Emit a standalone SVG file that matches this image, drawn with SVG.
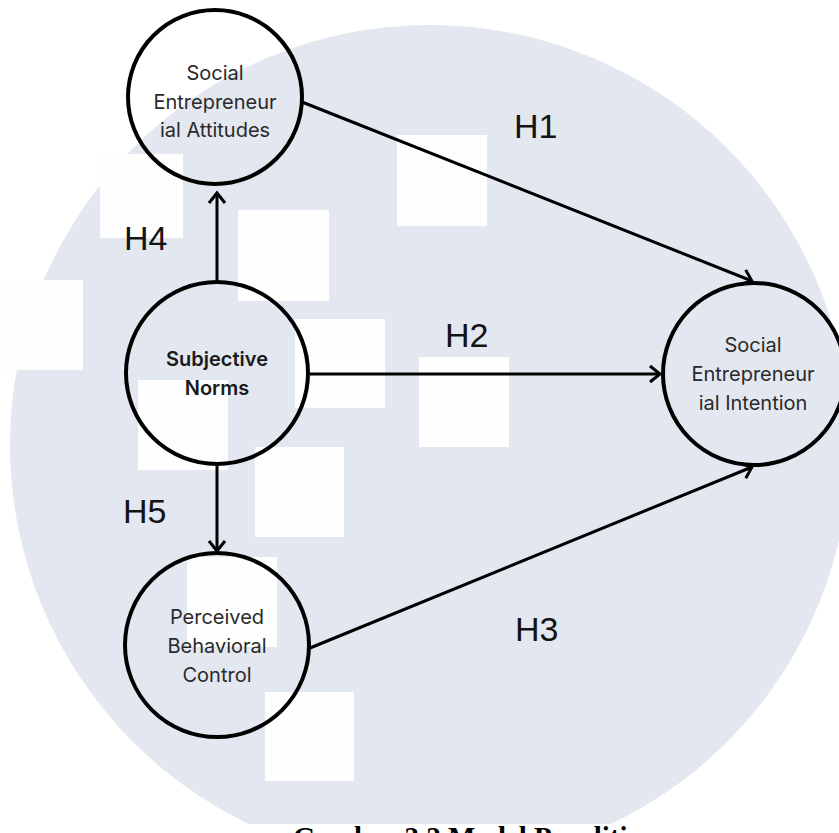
<svg xmlns="http://www.w3.org/2000/svg" width="839" height="833" viewBox="0 0 839 833">
  <style>
    .node { fill: none; stroke: #000; stroke-width: 4; }
    .ntext { font-family: Inter, "Open Sans", sans-serif; font-size: 20px; fill: #2a2a2a; text-anchor: middle; }
    .bold { font-weight: 600; fill: #1a1a1a; }
    .hlab { font-family: "Liberation Sans", Arial, sans-serif; font-size: 34px; fill: #141414; }
    .edge { fill: none; stroke: #000; stroke-width: 3; }
    .sq { fill: #fefefe; }
  </style>
  <defs>
    <marker id="arr" markerUnits="userSpaceOnUse" markerWidth="14" markerHeight="20" viewBox="0 0 14 20" refX="11" refY="10" orient="auto">
      <path d="M1,2 L11,10 L1,18" fill="none" stroke="#000" stroke-width="3"/>
    </marker>
  </defs>
  <rect x="0" y="0" width="839" height="833" fill="#ffffff"/>
  <g id="background">
    <circle cx="430" cy="445" r="420" fill="#e3e7ef"/>
    <rect class="sq" x="397" y="135" width="90" height="91"/>
    <rect class="sq" x="238" y="210" width="91" height="91"/>
    <rect class="sq" x="295" y="319" width="90" height="89"/>
    <rect class="sq" x="419" y="357" width="90" height="90"/>
    <rect class="sq" x="255" y="447" width="89" height="90"/>
    <rect class="sq" x="138" y="380" width="90" height="90"/>
    <rect class="sq" x="187" y="557" width="90" height="90"/>
    <rect class="sq" x="265" y="692" width="89" height="89"/>
    <rect class="sq" x="100" y="154" width="83" height="84"/>
    <rect class="sq" x="0" y="280" width="83" height="90"/>
    <rect x="0" y="824" width="839" height="9" fill="#ffffff"/>
  </g>
  <g id="connectors">
    <line class="edge" x1="217" y1="281" x2="217" y2="193" marker-end="url(#arr)"/>
    <line class="edge" x1="217" y1="466" x2="217" y2="551" marker-end="url(#arr)"/>
    <line class="edge" x1="310" y1="374" x2="660" y2="374" marker-end="url(#arr)"/>
    <line class="edge" x1="302" y1="102" x2="752" y2="281" marker-end="url(#arr)"/>
    <line class="edge" x1="310" y1="648" x2="752" y2="467" marker-end="url(#arr)"/>
  </g>
  <g id="labels">
    <text class="hlab" x="514" y="138">H1</text>
    <text class="hlab" x="445" y="347">H2</text>
    <text class="hlab" x="515" y="641">H3</text>
    <text class="hlab" x="124" y="250">H4</text>
    <text class="hlab" x="123" y="523">H5</text>
  </g>
  <g id="node-sea">
    <circle class="node" cx="215" cy="97" r="87"/>
    <text class="ntext" x="215" y="80">Social</text>
    <text class="ntext" x="215" y="109">Entrepreneur</text>
    <text class="ntext" x="215" y="137">ial Attitudes</text>
  </g>
  <g id="node-sn">
    <circle class="node" cx="217" cy="373" r="91"/>
    <text class="ntext bold" x="217" y="366">Subjective</text>
    <text class="ntext bold" x="217" y="395">Norms</text>
  </g>
  <g id="node-pbc">
    <circle class="node" cx="217" cy="645" r="92"/>
    <text class="ntext" x="217" y="624">Perceived</text>
    <text class="ntext" x="217" y="653">Behavioral</text>
    <text class="ntext" x="217" y="682">Control</text>
  </g>
  <g id="node-sei">
    <circle class="node" cx="754" cy="374" r="91"/>
    <text class="ntext" x="753" y="352">Social</text>
    <text class="ntext" x="753" y="381">Entrepreneur</text>
    <text class="ntext" x="753" y="410">ial Intention</text>
  </g>
  <text x="293" y="847" font-family="'Liberation Serif', 'Times New Roman', serif" font-weight="bold" font-size="29" fill="#000">Gambar 3.2 Model Penelitian</text>
</svg>
